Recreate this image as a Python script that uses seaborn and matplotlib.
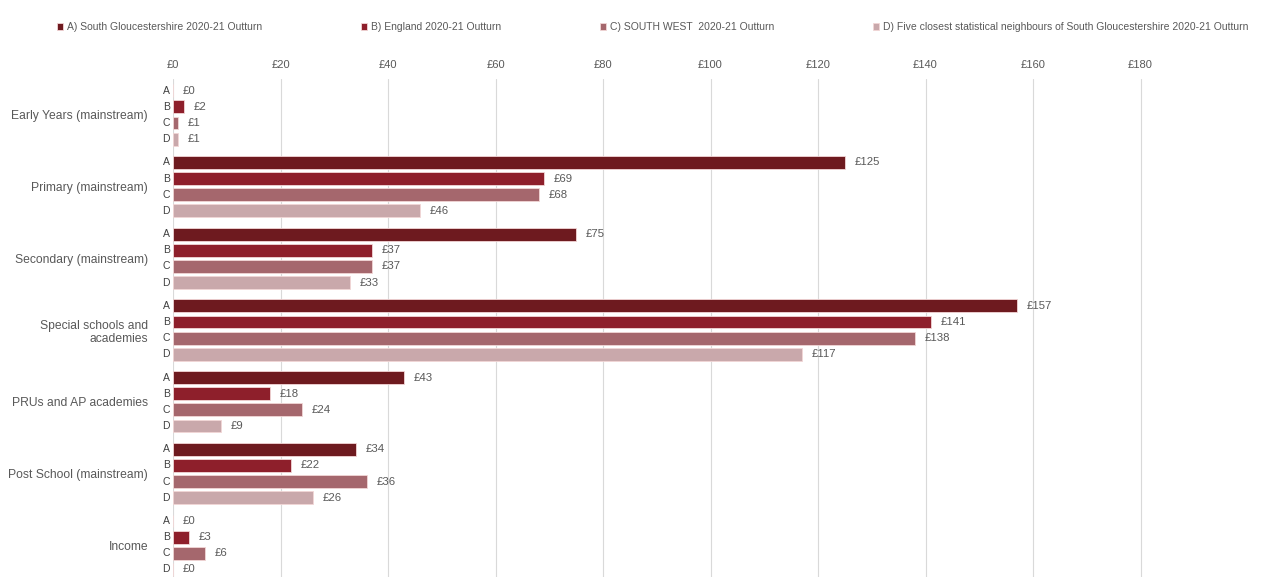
import matplotlib
matplotlib.use("Agg")
import matplotlib.pyplot as plt
import matplotlib.transforms as mtransforms
import seaborn as sns
import pandas as pd

categories = ["Early Years (mainstream)", "Primary (mainstream)", "Secondary (mainstream)",
              "Special schools and\nacademies", "PRUs and AP academies",
              "Post School (mainstream)", "Income"]
series = ["A) South Gloucestershire 2020-21 Outturn",
          "B) England 2020-21 Outturn",
          "C) SOUTH WEST  2020-21 Outturn",
          "D) Five closest statistical neighbours of South Gloucestershire 2020-21 Outturn"]
letters = ["A", "B", "C", "D"]
vals_a = [0, 125, 75, 157, 43, 34, 0]
vals_b = [2, 69, 37, 141, 18, 22, 3]
vals_c = [1, 68, 37, 138, 24, 36, 6]
vals_d = [1, 46, 33, 117, 9, 26, 0]
xticks = [0, 20, 40, 60, 80, 100, 120, 140, 160, 180]
colors = ["#6E1A1F", "#8E1F2B", "#A5676D", "#C9A8AB"]

rows = []
for s, vals in zip(series, [vals_a, vals_b, vals_c, vals_d]):
    for c, v in zip(categories, vals):
        rows.append({"category": c, "series": s, "value": v})
df = pd.DataFrame(rows)

sns.set_style("white")
plt.rcParams["font.family"] = ["Liberation Sans", "DejaVu Sans"]
txt = "#595959"

fig = plt.figure(figsize=(12.63, 5.77), dpi=100)
ax = fig.add_axes([173/1263, -0.007, (1248-173)/1263, 0.870])

sns.barplot(data=df, y="category", x="value", hue="series", order=categories,
            hue_order=series, palette=colors, saturation=1, orient="h", width=0.9, gap=0.2,
            edgecolor="#F2D6D6", linewidth=0.6, ax=ax, legend=True)

ax.set_xlim(0, 200)
ax.set_xticks(xticks)
ax.set_xticklabels([f"£{t}" for t in xticks])
ax.xaxis.tick_top()
ax.tick_params(axis="x", length=0, pad=6.5, labelsize=8, labelcolor=txt)
ax.tick_params(axis="y", length=0, pad=18, labelsize=8.7, labelcolor=txt)
ax.set_xlabel("")
ax.set_ylabel("")
ax.grid(axis="x", color="#D9D9D9", linewidth=0.8)
ax.set_axisbelow(True)
for sp in ax.spines.values():
    sp.set_visible(False)

trans = mtransforms.blended_transform_factory(ax.transAxes, ax.transData)
for letter, cont in zip(letters, ax.containers):
    for bar in cont:
        yc = bar.get_y() + bar.get_height() / 2
        w = bar.get_width()
        ax.text(-0.003, yc, letter, transform=trans, ha="right", va="center",
                fontsize=7.5, color="#404040")
        ax.annotate(f"£{w:.0f}", (w, yc), xytext=(7, 0), textcoords="offset points",
                    ha="left", va="center", fontsize=8.2, color=txt)

leg = ax.legend(loc="upper left", bbox_to_anchor=(42/1263, 0.972, 1221/1263, 0.015),
                bbox_transform=fig.transFigure, mode="expand",
                ncol=4, frameon=False, fontsize=7.5, handlelength=0.6, handleheight=0.6,
                handletextpad=0.4, columnspacing=3.0, labelcolor=txt, borderaxespad=1.0)

fig.savefig("out.png", dpi=100)
